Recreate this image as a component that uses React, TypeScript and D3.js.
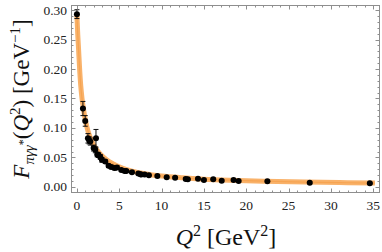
import * as d3 from "d3";

// measured points (Q^2 in GeV^2, F in GeV^-1, error)
const q2 = [0.0, 0.71, 0.98, 1.3, 1.45, 1.58, 1.97, 2.17, 2.25, 2.4, 2.56, 2.76, 2.95, 3.35, 3.74, 4.05, 4.45, 4.73, 5.24, 5.63, 5.83, 6.5, 7.25, 7.5, 7.6, 8.0, 8.5, 9.5, 10.6, 11.6, 12.85, 13.1, 14.3, 15.0, 16.1, 17.1, 18.5, 19.1, 22.5, 27.5, 34.6];
const ff = [0.293, 0.133, 0.112, 0.0825, 0.079, 0.077, 0.066, 0.063, 0.0825, 0.055, 0.054, 0.051, 0.046, 0.043, 0.036, 0.034, 0.032, 0.033, 0.029, 0.027, 0.027, 0.025, 0.023, 0.0215, 0.021, 0.021, 0.020, 0.0186, 0.0164, 0.0158, 0.0136, 0.013, 0.014, 0.0119, 0.013, 0.0107, 0.0119, 0.0102, 0.0096, 0.0073, 0.0062];
const errs = [0.0075, 0.012, 0.009, 0.008, 0.006, 0.006, 0.005, 0.005, 0.015, 0.004, 0.004, 0.004, 0.004, 0.003, 0.003, 0.003, 0.003, 0.003, 0.002, 0.002, 0.002, 0.002, 0.0015, 0.0015, 0.0015, 0.0015, 0.0015, 0.0015, 0.0015, 0.0015, 0.0015, 0.0015, 0.0015, 0.0015, 0.0015, 0.0015, 0.0015, 0.0015, 0.0015, 0.0015, 0.0015];

// theory curve
const curveQ2 = [0, 0.1, 0.2, 0.3, 0.45, 0.6, 0.8, 1.0, 1.3, 1.7, 2.2, 2.8, 3.5, 4.3, 5.2, 6.5, 8, 10, 12.5, 15, 18, 22, 27, 31, 35.2];
const curveF = [0.29, 0.258, 0.232, 0.205, 0.172, 0.15, 0.13, 0.113, 0.095, 0.08, 0.066, 0.055, 0.046, 0.039, 0.033, 0.027, 0.0225, 0.0185, 0.0155, 0.0133, 0.0115, 0.0098, 0.0083, 0.0074, 0.0066];

const xTicks = [0, 5, 10, 15, 20, 25, 30, 35];
const yTicks = [0, 0.05, 0.1, 0.15, 0.2, 0.25, 0.3];
const yTickLabels = ["0.00", "0.05", "0.10", "0.15", "0.20", "0.25", "0.30"];
const xMinor = d3.range(0, 36, 1);
const yMinor = d3.range(0, 0.305, 0.01);

const W = 382;
const H = 252;
const L = 71, R = 380, T = 5, B = 193;

export default function App() {
  const x = d3.scaleLinear().domain([-0.7, 35.8]).range([L, R]);
  const y = d3.scaleLinear().domain([-0.0102, 0.3085]).range([B, T]);

  const line = d3
    .line<number>()
    .x((_, i) => x(curveQ2[i]))
    .y((d) => y(d))
    .curve(d3.curveMonotoneX);

  const frame = "#8e8e8e";
  const font = "Liberation Serif, Times New Roman, Times, serif";

  return (
    <svg
      width={W}
      height={H}
      style={{ position: "fixed", left: 0, top: 0, background: "#fff", fontFamily: font }}
    >
      {/* theory band */}
      <path d={line(curveF) || ""} fill="none" stroke="#f9b26a" strokeWidth={5} strokeLinecap="butt" />
      <path d={line(curveF) || ""} fill="none" stroke="#f5a04c" strokeWidth={1.2} opacity={0.8} />

      {/* error bars */}
      {q2.map((q, i) => {
        const cx = x(q);
        const y1 = y(ff[i] - errs[i]);
        const y2 = y(ff[i] + errs[i]);
        return (
          <g key={"e" + i} stroke="#111" strokeWidth={1}>
            <line x1={cx} x2={cx} y1={y1} y2={y2} />
            <line x1={cx - 2.5} x2={cx + 2.5} y1={y1} y2={y1} />
            <line x1={cx - 2.5} x2={cx + 2.5} y1={y2} y2={y2} />
          </g>
        );
      })}
      {q2.map((q, i) => (
        <circle key={"p" + i} cx={x(q)} cy={y(ff[i])} r={3} fill="#000" />
      ))}

      {/* frame */}
      <rect x={L + 0.5} y={T + 0.5} width={R - L - 1} height={B - T - 1} fill="none" stroke={frame} strokeWidth={1} />

      {/* ticks */}
      <g stroke={frame} strokeWidth={1}>
        {xMinor.map((v) => (
          <g key={"xm" + v}>
            <line x1={Math.round(x(v)) + 0.5} x2={Math.round(x(v)) + 0.5} y1={B} y2={B - 2.5} />
            <line x1={Math.round(x(v)) + 0.5} x2={Math.round(x(v)) + 0.5} y1={T} y2={T + 2.5} />
          </g>
        ))}
        {yMinor.map((v) => (
          <g key={"ym" + v}>
            <line y1={Math.round(y(v)) + 0.5} y2={Math.round(y(v)) + 0.5} x1={L} x2={L + 2.5} />
            <line y1={Math.round(y(v)) + 0.5} y2={Math.round(y(v)) + 0.5} x1={R} x2={R - 2.5} />
          </g>
        ))}
        {xTicks.map((v) => (
          <g key={"xM" + v}>
            <line x1={Math.round(x(v)) + 0.5} x2={Math.round(x(v)) + 0.5} y1={B} y2={B - 4.5} />
            <line x1={Math.round(x(v)) + 0.5} x2={Math.round(x(v)) + 0.5} y1={T} y2={T + 4.5} />
          </g>
        ))}
        {yTicks.map((v) => (
          <g key={"yM" + v}>
            <line y1={Math.round(y(v)) + 0.5} y2={Math.round(y(v)) + 0.5} x1={L} x2={L + 4.5} />
            <line y1={Math.round(y(v)) + 0.5} y2={Math.round(y(v)) + 0.5} x1={R} x2={R - 4.5} />
          </g>
        ))}
      </g>

      {/* tick labels */}
      <g fontSize={13.5} fill="#222">
        {xTicks.map((v) => (
          <text key={"xl" + v} x={x(v)} y={210} textAnchor="middle">
            {v}
          </text>
        ))}
        {yTicks.map((v, i) => (
          <text key={"yl" + v} x={67} y={y(v) + 4.5} textAnchor="end">
            {yTickLabels[i]}
          </text>
        ))}
      </g>

      {/* axis titles */}
      <text x={226} y={245} textAnchor="middle" fontSize={24} fill="#111">
        <tspan fontStyle="italic">Q</tspan>
        <tspan fontSize={16} dy={-9}>2</tspan>
        <tspan dy={9}> [GeV</tspan>
        <tspan fontSize={16} dy={-9}>2</tspan>
        <tspan dy={9}>]</tspan>
      </text>
      <text transform="translate(29,99) rotate(-90)" textAnchor="middle" fontSize={23} fill="#111">
        <tspan fontStyle="italic">F</tspan>
        <tspan fontSize={15} fontStyle="italic" dy={5}>πγγ</tspan>
        <tspan fontSize={12} dy={-7}>*</tspan>
        <tspan dy={2}>(</tspan>
        <tspan fontStyle="italic">Q</tspan>
        <tspan fontSize={15} dy={-9}>2</tspan>
        <tspan dy={9}>) [GeV</tspan>
        <tspan fontSize={15} dy={-9}>−1</tspan>
        <tspan dy={9}>]</tspan>
      </text>
    </svg>
  );
}
